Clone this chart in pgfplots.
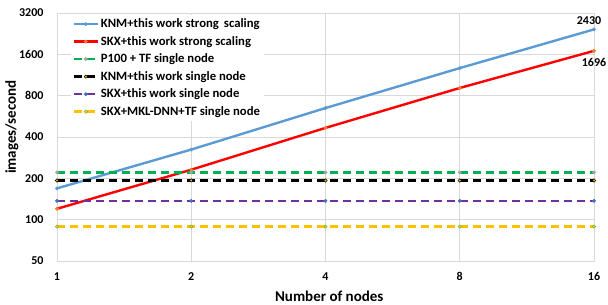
\documentclass[border=0pt]{standalone}
\usepackage{pgfplots}
\pgfplotsset{compat=1.18}
\usepackage{fontspec}
\setmainfont{Carlito}
\definecolor{xblue}{RGB}{91,155,213}
\definecolor{xorange}{RGB}{237,125,49}
\definecolor{xgray}{RGB}{165,165,165}
\definecolor{xgold}{RGB}{255,192,0}
\definecolor{xdblue}{RGB}{68,114,196}
\definecolor{xgreen}{RGB}{112,173,71}
\definecolor{lgreen}{RGB}{0,176,80}
\definecolor{lpurple}{RGB}{112,48,160}
\definecolor{gridc}{RGB}{217,217,217}
\begin{document}
\begin{tikzpicture}
\begin{axis}[
  name=ax,
  scale only axis, width=537pt, height=248pt,
  xmode=log, log basis x=2, ymode=log, log basis y=2,
  xmin=1, xmax=16, ymin=50, ymax=3200,
  xtick={1,2,4,8,16}, xticklabels={1,2,4,8,16},
  ytick={50,100,200,400,800,1600,3200},
  yticklabels={50,100,200,400,800,1600,3200},
  grid=major, major grid style={gridc, line width=0.8pt},
  axis line style={gridc, line width=0.8pt},
  tick style={draw=none},
  ticklabel style={font=\bfseries\fontsize{12}{14}\selectfont},
  /pgf/number format/assume math mode=true,
  xticklabel style={yshift=-8pt},
  yticklabel style={xshift=-10pt},
  xlabel={\bfseries Number of nodes}, ylabel={\bfseries images/second},
  label style={font=\bfseries\fontsize{15}{17}\selectfont},
  xlabel style={at={(axis description cs:0.507,-0.141)}, anchor=center},
  ylabel style={at={(axis description cs:-0.084,0.54)}, anchor=center},
  legend cell align=left,
  legend style={at={(0.025,0.993)}, anchor=north west, draw=none, fill=white,
    font=\bfseries\fontsize{12.7}{15}\selectfont, row sep=3.1pt, inner sep=2pt,
    /tikz/every even column/.append style={column sep=1pt}},
  legend image code/.code={\draw[mark repeat=2,mark phase=2] plot coordinates {(0cm,0cm)(0.42cm,0cm)(0.84cm,0cm)};},
  every axis plot/.append style={line width=2.4pt},
  clip=false,
]
\addplot[xblue, mark=*, mark size=1.7pt, mark options={solid, fill=xblue, draw=xblue, line width=0.5pt}]
  coordinates {(1,169) (2,324) (4,650) (8,1270) (16,2430)};
\addlegendentry{KNM+this work strong\ \,scaling}
\addplot[red, mark=*, mark size=1.7pt, mark options={solid, fill=xorange, draw=xorange, line width=0.5pt}]
  coordinates {(1,120) (2,231) (4,466) (8,910) (16,1696)};
\addlegendentry{SKX+this work strong scaling}
\addplot[lgreen, dash pattern=on 8pt off 5pt, mark=*, mark size=1.7pt, mark options={solid, fill=xgray, draw=xgray, line width=0.5pt}]
  coordinates {(1,221) (2,221) (4,221) (8,221) (16,221)};
\addlegendentry{P100 + TF single node}
\addplot[black, dash pattern=on 8pt off 5pt, mark=*, mark size=1.7pt, mark options={solid, fill=xgold, draw=black, line width=0.5pt}]
  coordinates {(1,193) (2,193) (4,193) (8,193) (16,193)};
\addlegendentry{KNM+this work single node}
\addplot[lpurple, dash pattern=on 8pt off 5pt, mark=*, mark size=1.7pt, mark options={solid, fill=xdblue, draw=xdblue, line width=0.5pt}]
  coordinates {(1,137) (2,137) (4,137) (8,137) (16,137)};
\addlegendentry{SKX+this work single node}
\addplot[xgold, dash pattern=on 8pt off 5pt, mark=*, mark size=1.7pt, mark options={solid, fill=xgold!60!yellow, draw=xgreen, line width=0.5pt}]
  coordinates {(1,89) (2,89) (4,89) (8,89) (16,89)};
\addlegendentry{SKX+MKL-DNN+TF single node}
\node[font=\bfseries\fontsize{12}{14}\selectfont, anchor=center, xshift=-5pt, yshift=9pt] at (axis cs:16,2430) {2430};
\node[font=\bfseries\fontsize{12}{14}\selectfont, anchor=center, xshift=0pt, yshift=-12pt] at (axis cs:16,1696) {1696};
\end{axis}
\pgfresetboundingbox
\path ([xshift=-57pt,yshift=-44pt]ax.south west) rectangle ([xshift=14pt,yshift=13pt]ax.north east);
\end{tikzpicture}
\end{document}
